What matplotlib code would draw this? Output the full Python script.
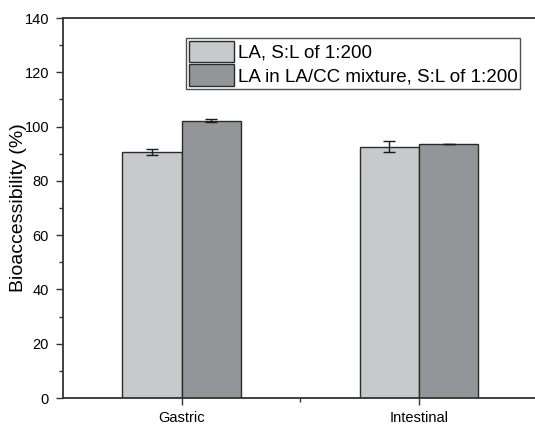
import matplotlib
matplotlib.use('Agg')
import matplotlib.pyplot as plt
from matplotlib.ticker import MultipleLocator, FixedLocator
import numpy as np

plt.rcParams['font.family'] = ['Liberation Sans', 'DejaVu Sans']

categories = ['Gastric', 'Intestinal']
series_names = ['LA, S:L of 1:200', 'LA in LA/CC mixture, S:L of 1:200']
la_values = [90.7, 92.6]
la_err = [1.0, 2.0]
mix_values = [102.2, 93.6]
mix_err = [0.5, 0.0]

light = '#c8c9cb'
dark = '#939598'
edge = '#2b2b2b'

fig = plt.figure(figsize=(5.35, 4.24), dpi=100)
ax = fig.add_axes([63 / 535, 26 / 424, 474.5 / 535, 380 / 424])

x = np.arange(len(categories))
w = 0.25
ax.bar(x - w / 2, la_values, w, color=light, edgecolor=edge, linewidth=1.0,
       label=series_names[0], zorder=2)
ax.bar(x + w / 2, mix_values, w, color=dark, edgecolor=edge, linewidth=1.0,
       label=series_names[1], zorder=2)
ax.errorbar(x - w / 2, la_values, yerr=la_err, fmt='none', ecolor='#1a1a1a',
            elinewidth=1.0, capsize=4, capthick=1.0, zorder=3)
ax.errorbar(x + w / 2, mix_values, yerr=mix_err, fmt='none', ecolor='#1a1a1a',
            elinewidth=1.0, capsize=4, capthick=1.0, zorder=3)

ax.set_xlim(-0.5, 1.5)
ax.set_ylim(0, 140)
ax.set_xticks(x)
ax.set_xticklabels(categories, fontsize=10.5)
ax.xaxis.set_minor_locator(FixedLocator([0.5]))
ax.yaxis.set_major_locator(MultipleLocator(20))
ax.yaxis.set_minor_locator(MultipleLocator(10))
ax.tick_params(axis='y', which='major', labelsize=10.5, length=5, width=1,
               color='#333333', pad=5)
ax.tick_params(axis='y', which='minor', length=3, width=1, color='#333333')
ax.tick_params(axis='x', which='major', length=5, width=1, color='#333333', pad=4)
ax.tick_params(axis='x', which='minor', length=3, width=1, color='#333333')
ax.set_ylabel('Bioaccessibility (%)', fontsize=14, labelpad=-1.5)

for s in ['left', 'bottom', 'top']:
    ax.spines[s].set_color('#333333')
    ax.spines[s].set_linewidth(1.3)
ax.spines['right'].set_visible(False)

leg = ax.legend(loc='upper left', bbox_to_anchor=(123 / 474.5, 1 - 20 / 380),
                fontsize=13.5, frameon=True, fancybox=False, edgecolor='#222222',
                borderpad=0.15, handlelength=2.4, handleheight=1.4,
                handletextpad=0.2, labelspacing=0.1, borderaxespad=0)
leg.get_frame().set_linewidth(1.0)

fig.savefig('out.png', dpi=100)
